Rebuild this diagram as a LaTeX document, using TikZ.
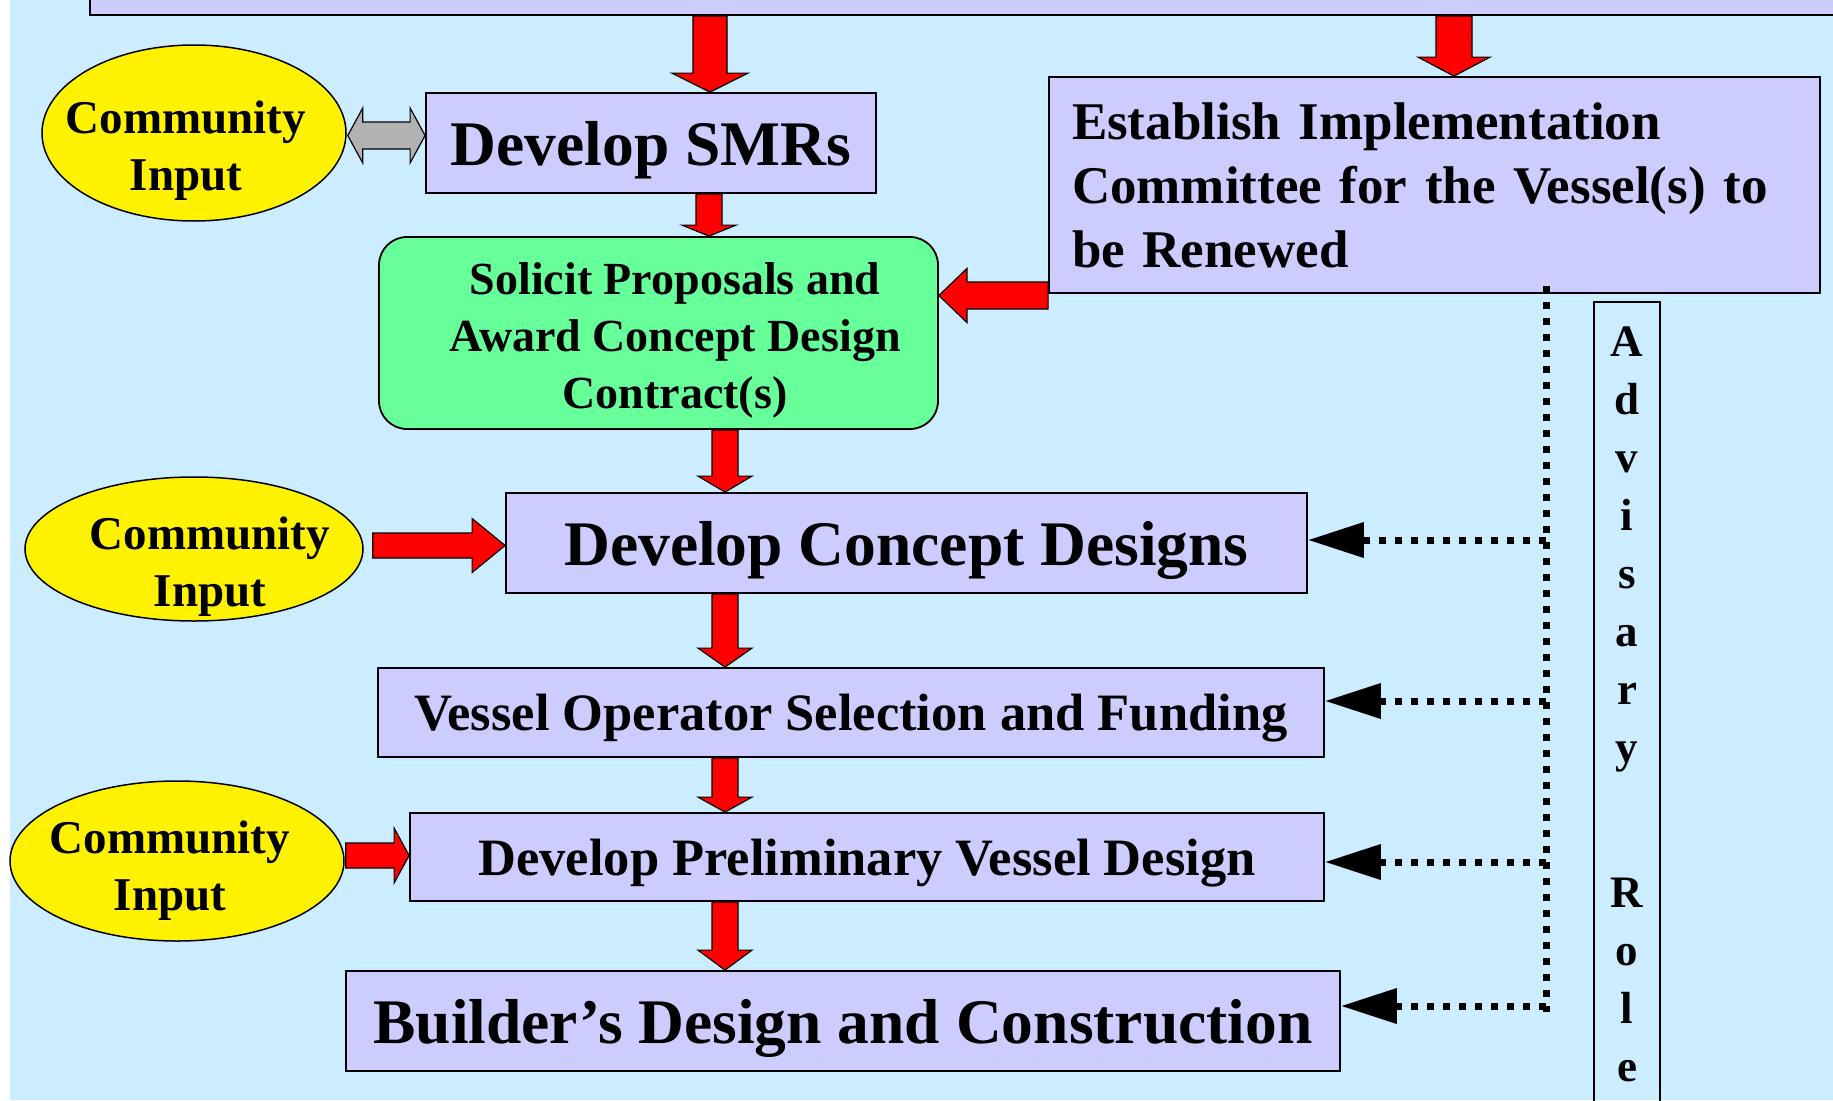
\documentclass[tikz,border=0pt]{standalone}
\usepackage{fontspec}
\setmainfont{Liberation Serif}
\usetikzlibrary{shapes.geometric,arrows.meta,calc,positioning}

\definecolor{sky}{HTML}{CCECFF}
\definecolor{lavender}{HTML}{CCCCFF}
\definecolor{mint}{HTML}{66FF99}
\definecolor{pale}{HTML}{B2B2B2}

\newcommand{\blockdown}[5]{\draw[block] let \p1=#1, \p2=#2 in
  (\x2-#3pt,\y1) -- (\x2-#3pt,\y2+#5pt) -- (\x2-#4pt,\y2+#5pt) -- (\p2)
  -- (\x2+#4pt,\y2+#5pt) -- (\x2+#3pt,\y2+#5pt) -- (\x2+#3pt,\y1) -- cycle;}
\newcommand{\blockright}[5]{\draw[block] let \p1=#1, \p2=#2 in
  (\x1,\y2+#3pt) -- (\x2-#5pt,\y2+#3pt) -- (\x2-#5pt,\y2+#4pt) -- (\p2)
  -- (\x2-#5pt,\y2-#4pt) -- (\x2-#5pt,\y2-#3pt) -- (\x1,\y2-#3pt) -- cycle;}
\newcommand{\blockleft}[5]{\draw[block] let \p1=#1, \p2=#2 in
  (\x1,\y2+#3pt) -- (\x2+#5pt,\y2+#3pt) -- (\x2+#5pt,\y2+#4pt) -- (\p2)
  -- (\x2+#5pt,\y2-#4pt) -- (\x2+#5pt,\y2-#3pt) -- (\x1,\y2-#3pt) -- cycle;}
\newcommand{\blockboth}[5]{\draw[block,fill=pale] let \p1=#1, \p2=#2 in
  (\x1,\y2) -- (\x1+#5pt,\y2+#4pt) -- (\x1+#5pt,\y2+#3pt) -- (\x2-#5pt,\y2+#3pt)
  -- (\x2-#5pt,\y2+#4pt) -- (\p2) -- (\x2-#5pt,\y2-#4pt) -- (\x2-#5pt,\y2-#3pt)
  -- (\x1+#5pt,\y2-#3pt) -- (\x1+#5pt,\y2-#4pt) -- cycle;}
\newcommand{\advise}[2]{\draw[advice,-{Triangle[length=56pt,width=34pt]}]
  let \p1=([yshift=#2pt]#1.east), \p2=(dtop) in (\x2,\y1) -- (\p1);}

\begin{document}
\begin{tikzpicture}[x=1pt,y=-1pt,
    box/.style={draw,fill=lavender,line width=1.8pt,inner sep=0pt},
    bigtext/.style={font=\bfseries\fontsize{63.5}{76}\selectfont,text depth=0pt},
    midtext/.style={font=\bfseries\fontsize{52.5}{63}\selectfont,text depth=0pt},
    community/.style={ellipse,draw,fill=yellow,line width=1.5pt,inner sep=0pt},
    citext/.style={font=\bfseries\fontsize{47}{57}\selectfont,align=center,inner sep=0pt},
    block/.style={draw,fill=red,line width=1.2pt,line join=miter},
    advice/.style={line width=7pt,dash pattern=on 7pt off 9pt}]
  \path[use as bounding box] (0,0) rectangle (1833,1100);
  \clip (0,0) rectangle (1833,1100);
  \fill[sky] (10,0) rectangle (1833,1100);

  \node[box,minimum width=1760pt,minimum height=70pt] (plan) at (970,-20) {};
  \node[box,bigtext,minimum width=450pt,minimum height=100pt] (smr) at (651,143) {Develop SMRs};
  \node[box,inner xsep=23pt,text width=725pt,minimum height=216pt,align=left,
        font=\bfseries\fontsize{53}{64}\selectfont] (est) at (1434.5,185)
        {Establish Implementation\\Committee for the Vessel(s) to\\be Renewed};
  \node[draw,fill=mint,line width=1.8pt,rounded corners=28pt,inner sep=0pt,
        minimum width=559pt,minimum height=192pt] (sol) at (658.5,333) {};
  \node[align=center,inner sep=0pt,font=\bfseries\fontsize{46}{57}\selectfont]
        (solt) at ([xshift=16.5pt,yshift=-7pt]sol.center)
        {Solicit Proposals and\\Award Concept Design\\Contract(s)};
  \node[box,bigtext,minimum width=801pt,minimum height=100pt] (concept) at (906.5,543) {Develop Concept Designs};
  \node[box,midtext,minimum width=946pt,minimum height=89pt] (vessel) at (851,712.5) {Vessel Operator Selection and Funding};
  \node[box,midtext,minimum width=914pt,minimum height=88pt] (prelim) at (867,857) {Develop Preliminary Vessel Design};
  \node[box,bigtext,minimum width=994pt,minimum height=100pt] (builder) at (843,1021) {Builder's Design and Construction};

  \node[community,minimum width=304pt,minimum height=176pt] (ci1) at (194,133) {};
  \node[citext] (ci1t) at ([xshift=-8pt,yshift=-17.5pt]ci1.center) {Community\\Input};
  \node[community,minimum width=338pt,minimum height=144pt] (ci2) at (194,549) {};
  \node[citext] (ci2t) at ([xshift=16pt,yshift=-18pt]ci2.center) {Community\\Input};
  \node[community,minimum width=334pt,minimum height=160pt] (ci3) at (177,861) {};
  \node[citext] (ci3t) at ([xshift=-7pt,yshift=-10pt]ci3.center) {Community\\Input};

  \node[draw,line width=1.8pt,inner sep=0pt,anchor=north,minimum width=66pt,
        minimum height=805pt,align=center,font=\bfseries\fontsize{45}{58}\selectfont]
        (adv) at (1627,301) {A\\d\\v\\i\\s\\a\\r\\y\\[87pt]R\\o\\l\\e};

  \blockdown{(plan.south)}{([xshift=59pt]smr.north)}{17}{38}{19}
  \blockdown{(plan.south)}{([xshift=19.5pt]est.north)}{18}{36}{19}
  \blockdown{(smr.south)}{([xshift=50.5pt]sol.north)}{13}{27}{11}
  \blockleft{(est.west)}{([yshift=37.5pt]sol.east)}{13.5}{27}{28}
  \blockdown{(sol.south)}{([xshift=-181.5pt]concept.north)}{13}{27}{16}
  \blockdown{(concept.south)}{([xshift=-126pt]vessel.north)}{13}{27}{19}
  \blockdown{(vessel.south)}{([xshift=-142pt]prelim.north)}{13}{27}{15}
  \blockdown{(prelim.south)}{([xshift=-118pt]builder.north)}{13}{27}{20}
  \blockright{([xshift=9pt]ci2.east)}{([yshift=-2.5pt]concept.west)}{12.5}{27}{33}
  \blockright{([xshift=1pt]ci3.east)}{([yshift=1.5pt]prelim.west)}{12.5}{27.5}{15}
  \blockboth{([xshift=1pt]ci1.east)}{([yshift=7.5pt]smr.west)}{13.5}{27.5}{15}

  \coordinate (dtop) at (1546,286);
  \coordinate (dbot) at (1546,1012);
  \draw[advice] (dtop) -- (dbot);
  \advise{concept}{3}
  \advise{vessel}{11.5}
  \advise{prelim}{-5}
  \advise{builder}{15}
\end{tikzpicture}
\end{document}
